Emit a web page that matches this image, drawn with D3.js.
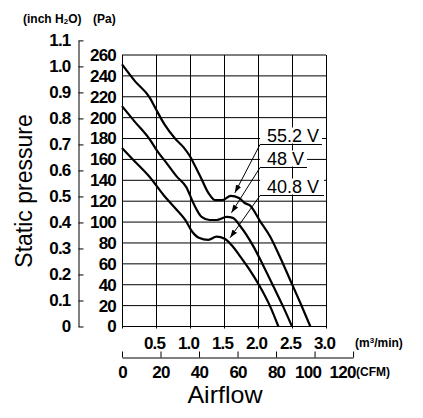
<!DOCTYPE html>
<html lang="en">
<head>
  <meta charset="UTF-8">
  <title>fan-pq</title>
  <script src="https://cdn.jsdelivr.net/npm/d3@7"></script>
  <style>
    body { margin: 0; background: #fff; }
    .num { font-family: "Liberation Sans", Arial, sans-serif; font-weight: bold; font-size: 17px; letter-spacing: -0.8px; }
    .unit { font-family: "Liberation Sans", Arial, sans-serif; font-weight: bold; font-size: 12px; }
    .title { font-family: "Liberation Sans", Arial, sans-serif; font-size: 23px; }
  </style>
</head>
<body>
<div id="chart"></div>
<script>
    // airflow in m3/min, static pressure in Pa
    let v552_q = [0, 0.19, 0.41, 0.5, 0.63, 0.78, 0.9, 1.0, 1.08, 1.15, 1.27, 1.37, 1.47, 1.6, 1.72, 1.81, 1.88, 2.03, 2.18, 2.32, 2.47, 2.62, 2.77];
    let v552_p = [251, 235, 219, 208, 193, 180, 172, 163, 153, 144, 128, 121, 121, 125, 123, 118, 116, 101, 86, 67, 45, 23, 0];
    let v48_q = [0, 0.19, 0.41, 0.53, 0.65, 0.8, 0.95, 1.05, 1.17, 1.29, 1.39, 1.54, 1.63, 1.74, 1.93, 2.08, 2.23, 2.37, 2.5];
    let v48_p = [211, 196, 179, 167, 157, 144, 133, 118, 105, 102, 102, 105, 104, 96, 77, 58, 38, 19, 0];
    let v408_q = [0, 0.16, 0.41, 0.61, 0.8, 0.93, 1.03, 1.13, 1.27, 1.39, 1.51, 1.61, 1.74, 1.88, 2.03, 2.18, 2.3];
    let v408_p = [171, 160, 143, 126, 112, 102, 91, 85, 83, 86, 84, 78, 67, 54, 38, 19, 0];

    let series_names = ["55.2 V", "48 V", "40.8 V"];
    // label anchor (underline start), underline end and arrow tip, in data units
    let label_q = [2.03, 2.03, 2.03];
    let label_p = [175, 153, 126];
    let label_end_q = [2.94, 2.72, 2.97];
    let tip_q = [1.66, 1.61, 1.59];
    let tip_p = [128, 109, 85];

    let pa_ticks = d3.range(0, 261, 20);
    let inch_ticks = d3.range(0, 1.11, 0.1);
    let m3_ticks = [0.5, 1.0, 1.5, 2.0, 2.5, 3.0];
    let cfm_ticks = [0, 20, 40, 60, 80, 100, 120];

    const PA_PER_INCH = 249.089, CFM_PER_M3 = 35.3147;

    let width = 423, height = 418;
    let svg = d3.select("#chart").append("svg").attr("width", width).attr("height", height);

    let x = d3.scaleLinear().domain([0, 3]).range([122, 326]);
    let y = d3.scaleLinear().domain([0, 260]).range([326.5, 55]);
    let inch = d3.scaleLinear().domain([0, 260 / PA_PER_INCH]).range(y.range());
    inch = inch.copy().domain([0, 1.1]).range([y(0), inch(1.1)]);
    let cfm = d3.scaleLinear().domain([0, 3 * CFM_PER_M3]).range(x.range());
    cfm = cfm.copy().domain([0, 120]).range([x(0), cfm(120)]);

    // grid
    let grid = svg.append("g").attr("stroke", "#000").attr("stroke-width", 1);
    grid.selectAll(".h").data(pa_ticks).enter().append("line")
        .attr("x1", x(0)).attr("x2", x(3))
        .attr("y1", d => y(d)).attr("y2", d => y(d));
    grid.selectAll(".v").data(d3.range(0, 3.01, 0.5)).enter().append("line")
        .attr("x1", d => Math.round(x(d)) + 0.5).attr("x2", d => Math.round(x(d)) + 0.5)
        .attr("y1", y(260)).attr("y2", y(0) + 2);

    // Pa labels
    let paAxis = svg.append("g").attr("transform", "translate(" + x(0) + ",0)")
        .call(d3.axisLeft(y).tickValues(pa_ticks).tickSize(0).tickPadding(6));
    paAxis.select(".domain").remove();
    paAxis.selectAll("text").attr("class", "num").attr("font-family", null).attr("font-size", null);

    // inch H2O axis
    let inchAxis = svg.append("g").attr("transform", "translate(78.5,0)")
        .call(d3.axisLeft(inch).tickValues(inch_ticks).tickSizeInner(-5).tickSizeOuter(0).tickPadding(8)
            .tickFormat(d => d < 0.05 ? "0" : d3.format(".1f")(d)));
    inchAxis.selectAll("text").attr("class", "num").attr("font-family", null).attr("font-size", null);
    inchAxis.selectAll("path, line").attr("stroke", "#000");

    // m3/min labels
    let m3Axis = svg.append("g").attr("transform", "translate(0," + y(0) + ")")
        .call(d3.axisBottom(x).tickValues(m3_ticks).tickSize(0).tickPadding(10).tickFormat(d3.format(".1f")));
    m3Axis.select(".domain").remove();
    m3Axis.selectAll("text").attr("class", "num").attr("font-family", null).attr("font-size", null)
        .attr("dx", -2);

    // CFM axis
    let cfmAxis = svg.append("g").attr("transform", "translate(0,357.5)")
        .call(d3.axisBottom(cfm).tickValues(cfm_ticks).tickSizeInner(-6).tickSizeOuter(0).tickPadding(8));
    cfmAxis.selectAll("text").attr("class", "num").attr("font-family", null).attr("font-size", null)
        .attr("dx", d => d === 120 ? -11 : d === 100 ? -7 : 0);
    cfmAxis.selectAll("path, line").attr("stroke", "#000");

    // curves
    let line = d3.line().x(d => x(d[0])).y(d => y(d[1])).curve(d3.curveMonotoneX);
    let series = [d3.zip(v552_q, v552_p), d3.zip(v48_q, v48_p), d3.zip(v408_q, v408_p)];
    svg.append("g").selectAll("path").data(series).enter().append("path")
        .attr("d", line).attr("fill", "none").attr("stroke", "#000")
        .attr("stroke-width", 2.2).attr("stroke-linejoin", "round");

    // labels with leaders
    svg.append("defs").append("marker").attr("id", "arrow")
        .attr("viewBox", "0 0 10 10").attr("refX", 10).attr("refY", 5)
        .attr("markerWidth", 8).attr("markerHeight", 8).attr("markerUnits", "userSpaceOnUse")
        .attr("orient", "auto")
        .append("path").attr("d", "M0,1.5 L10,5 L0,8.5 Z").attr("fill", "#000");

    let labels = svg.append("g");
    series_names.forEach(function (name, i) {
        let x0 = x(label_q[i]), x1 = x(label_end_q[i]), yy = Math.round(y(label_p[i])) + 0.5;
        labels.append("rect").attr("x", x0).attr("y", yy - 17).attr("width", x1 - x0).attr("height", 16)
            .attr("fill", "#fff");
        labels.append("text").attr("x", x0 + 7).attr("y", yy - 3)
            .attr("font-family", "'Liberation Sans', Arial, sans-serif").attr("font-size", 18)
            .text(name);
        labels.append("line").attr("x1", x0).attr("x2", x1).attr("y1", yy).attr("y2", yy)
            .attr("stroke", "#000").attr("stroke-width", 1);
        labels.append("line").attr("x1", x0).attr("y1", yy)
            .attr("x2", x(tip_q[i])).attr("y2", y(tip_p[i]))
            .attr("stroke", "#000").attr("stroke-width", 1).attr("marker-end", "url(#arrow)");
    });

    // unit captions and titles
    svg.append("text").attr("class", "unit").attr("x", 23).attr("y", 23)
        .html("(inch H<tspan font-size='8' dy='1'>2</tspan><tspan dy='-1'>O)</tspan>");
    svg.append("text").attr("class", "unit").attr("x", 93).attr("y", 23).text("(Pa)");
    svg.append("text").attr("class", "unit").attr("x", 355).attr("y", 347)
        .html("(m<tspan font-size='8' dy='-4'>3</tspan><tspan dy='4'>/min)</tspan>");
    svg.append("text").attr("class", "unit").attr("x", 356).attr("y", 376).attr("font-size", 11.5).text("(CFM)");

    svg.append("text").attr("class", "title")
        .attr("transform", "translate(32,191) rotate(-90)")
        .attr("text-anchor", "middle").text("Static pressure");
    svg.append("text").attr("class", "title")
        .attr("transform", "translate(225,403) scale(1.09,1)")
        .attr("text-anchor", "middle").attr("font-size", 19).text("Airflow");
</script>
</body>
</html>
